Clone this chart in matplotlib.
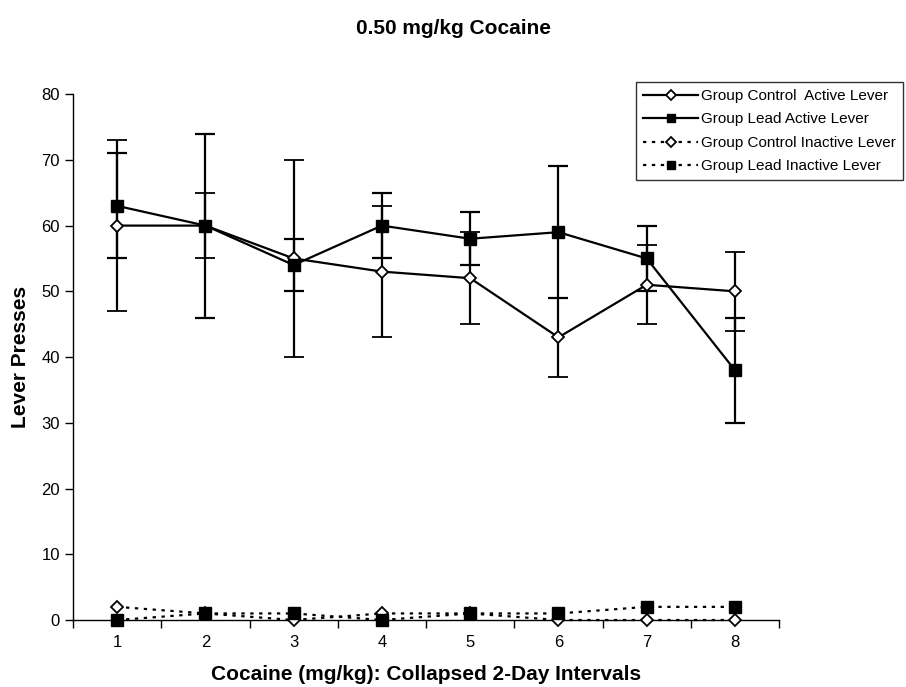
import matplotlib
matplotlib.use("Agg")
import matplotlib.pyplot as plt
import numpy as np

plt.rcParams['font.family'] = ['Liberation Sans', 'DejaVu Sans']

# data
intervals = [1, 2, 3, 4, 5, 6, 7, 8]
control_active = [60, 60, 55, 53, 52, 43, 51, 50]
control_active_err = [13, 5, 15, 10, 7, 6, 6, 6]
lead_active = [63, 60, 54, 60, 58, 59, 55, 38]
lead_active_err = [8, 14, 4, 5, 4, 10, 5, 8]
control_inactive = [2, 1, 0, 1, 1, 0, 0, 0]
lead_inactive = [0, 1, 1, 0, 1, 1, 2, 2]

labels = ["Group Control  Active Lever", "Group Lead Active Lever",
          "Group Control Inactive Lever", "Group Lead Inactive Lever"]

fig = plt.figure(figsize=(9.06, 6.87), dpi=100)
ax = fig.add_axes([0.0806, 0.0975, 0.7793, 0.7655])

x = np.array(intervals)
dot = (0, (1.5, 2.5))

h1 = ax.errorbar(x, control_active, yerr=control_active_err, color='black', lw=1.6,
                 marker='D', ms=6, mfc='white', mec='black', mew=1.3,
                 capsize=7, elinewidth=1.6, capthick=1.6, zorder=3)
h2 = ax.errorbar(x, lead_active, yerr=lead_active_err, color='black', lw=1.6,
                 marker='s', ms=8, mfc='black', mec='black',
                 capsize=7, elinewidth=1.6, capthick=1.6, zorder=3)
h3, = ax.plot(x, control_inactive, color='black', lw=1.6, ls=dot,
              marker='D', ms=6, mfc='white', mec='black', mew=1.3, zorder=4,
              clip_on=False)
h4, = ax.plot(x, lead_inactive, color='black', lw=1.6, ls=dot,
              marker='s', ms=8, mfc='black', mec='black', zorder=4,
              clip_on=False)

ax.set_xlim(0.5, 8.5)
ax.set_ylim(0, 80)
ax.set_yticks(np.arange(0, 81, 10))
ax.set_xticks(np.arange(0.5, 8.6, 1))
ax.set_xticklabels([])
ax.set_xticks(x, minor=True)
ax.set_xticklabels([str(i) for i in intervals], minor=True)
ax.tick_params(axis='x', which='minor', length=0, pad=11, labelsize=12)
ax.tick_params(axis='x', which='major', length=6, direction='out', width=1)
ax.tick_params(axis='y', length=6, direction='out', width=1, labelsize=12)

for s in ['top', 'right']:
    ax.spines[s].set_visible(False)
ax.spines['left'].set_linewidth(1)
ax.spines['bottom'].set_linewidth(1)

ax.set_ylabel("Lever Presses", fontsize=15, fontweight='bold', labelpad=8)
ax.set_xlabel("Cocaine (mg/kg): Collapsed 2-Day Intervals", fontsize=15,
              fontweight='bold')
ax.xaxis.set_label_coords(0.5, -0.085)

fig.text(0.5, 0.958, "0.50 mg/kg Cocaine", ha='center', va='center',
         fontsize=15, fontweight='bold')

leg = fig.legend([h1[0], h2[0], h3, h4], labels, loc='upper right',
                 bbox_to_anchor=(0.9967, 0.8806), fontsize=11,
                 frameon=True, fancybox=False, edgecolor='black',
                 handlelength=3.6, handletextpad=0.2, labelspacing=0.62,
                 borderpad=0.45, borderaxespad=0, markerscale=0.8)
leg.get_frame().set_linewidth(1)

fig.savefig("out.png", dpi=100)
